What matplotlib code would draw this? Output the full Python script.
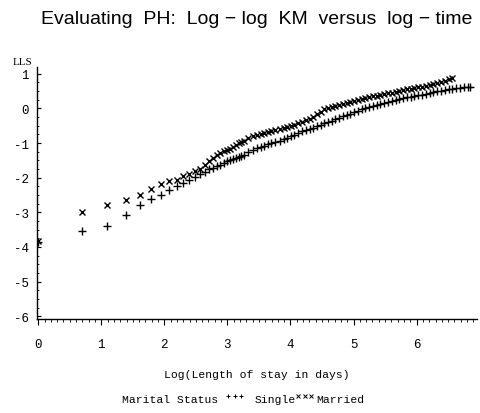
import numpy as np
import matplotlib
matplotlib.use("Agg")
import matplotlib.pyplot as plt
from matplotlib.lines import Line2D
from matplotlib.ticker import MultipleLocator

# Length of stay (days) at which the curves are evaluated; x = log(days)
married_days = [1, 2, 3, 4, 5, 6, 7, 8, 9, 10, 11, 12, 13, 14, 15, 16, 17, 18, 19, 20,
                21, 22, 23, 24, 25, 26, 28, 30, 32, 34, 36, 38, 40, 43, 46, 49, 52, 55, 58,
                62, 66, 70, 74, 78, 83, 88, 93, 99, 105, 111, 118, 125, 133, 141, 150, 159,
                169, 179, 190, 202, 214, 227, 241, 256, 272, 289, 307, 326, 346, 367, 390,
                414, 440, 467, 496, 527, 560, 595, 632, 671, 713]
married_lls = [-3.82, -2.98, -2.78, -2.64, -2.49, -2.33, -2.18, -2.10, -2.06, -1.96, -1.89,
               -1.82, -1.75, -1.62, -1.52, -1.42, -1.33, -1.28, -1.24, -1.21,
               -1.18, -1.12, -1.06, -1.00, -0.96, -0.93, -0.86, -0.80, -0.77, -0.73, -0.70,
               -0.68, -0.66, -0.62, -0.59, -0.56, -0.53, -0.50, -0.47, -0.42, -0.38, -0.34,
               -0.30, -0.25, -0.16, -0.09, -0.03, 0.01, 0.04, 0.07, 0.10, 0.13, 0.16, 0.19,
               0.22, 0.25, 0.27, 0.30, 0.32, 0.35, 0.37, 0.40, 0.42, 0.44, 0.46, 0.48, 0.50,
               0.53, 0.55, 0.57, 0.59, 0.61, 0.63, 0.65, 0.67, 0.70, 0.73, 0.76, 0.80, 0.84,
               0.88]

single_days = [1, 2, 3, 4, 5, 6, 7, 8, 9, 10, 11, 12, 13, 14, 15, 16, 17, 18, 19, 20,
               21, 22, 23, 24, 25, 26, 28, 30, 32, 34, 36, 38, 40, 43, 46, 49, 52, 55, 58,
               62, 66, 70, 74, 78, 83, 88, 93, 99, 105, 111, 118, 125, 133, 141, 150, 159,
               169, 179, 190, 202, 214, 227, 241, 256, 272, 289, 307, 326, 346, 367, 390,
               414, 440, 467, 496, 527, 560, 595, 632, 671, 713, 757, 804, 854, 907, 944]
single_lls = [-3.86, -3.54, -3.39, -3.08, -2.79, -2.62, -2.49, -2.35, -2.23, -2.15, -2.06,
              -1.99, -1.88, -1.83, -1.76, -1.71, -1.66, -1.62, -1.57, -1.53,
              -1.50, -1.47, -1.44, -1.41, -1.38, -1.34, -1.25, -1.19, -1.15, -1.11, -1.07,
              -1.04, -1.01, -0.97, -0.93, -0.89, -0.84, -0.80, -0.76, -0.71, -0.66, -0.62,
              -0.58, -0.55, -0.51, -0.47, -0.43, -0.39, -0.35, -0.31, -0.27, -0.23, -0.19,
              -0.15, -0.11, -0.07, -0.03, 0.00, 0.03, 0.07, 0.10, 0.13, 0.15, 0.18, 0.21,
              0.24, 0.27, 0.29, 0.32, 0.34, 0.36, 0.38, 0.40, 0.43, 0.45, 0.47, 0.49, 0.51,
              0.53, 0.55, 0.57, 0.58, 0.60, 0.61, 0.62, 0.63]

x_ticks = [0, 1, 2, 3, 4, 5, 6]
y_ticks = [-6, -5, -4, -3, -2, -1, 0, 1]

title = "Evaluating  PH:  Log \u2212 log  KM  versus  log \u2212 time"
x_label = "Log(Length of stay in days)"
y_label = "LLS"

mono = ["Liberation Mono", "DejaVu Sans Mono"]

fig = plt.figure(figsize=(4.8, 4.14), dpi=100)
ax = fig.add_axes([0.077, 0.227, 0.917, 0.609])

ax.plot(np.log(single_days), single_lls, linestyle="none", marker="+",
        markersize=5.5, markeredgewidth=1.0, color="black")
ax.plot(np.log(married_days), married_lls, linestyle="none", marker="x",
        markersize=4.8, markeredgewidth=1.0, color="black")

ax.set_xlim(-0.02, 6.96)
ax.set_ylim(-6.08, 1.2)
ax.set_xticks(x_ticks)
ax.set_yticks(y_ticks)
ax.xaxis.set_minor_locator(MultipleLocator(0.1))
ax.yaxis.set_minor_locator(MultipleLocator(0.25))
ax.set_xticklabels([str(v) for v in x_ticks], family=mono, fontsize=9)
ax.set_yticklabels([str(v) for v in y_ticks], family=mono, fontsize=9)
ax.tick_params(axis="x", which="major", direction="out", length=4, width=0.8, pad=10)
ax.tick_params(axis="x", which="minor", direction="out", length=2, width=0.6)
ax.tick_params(axis="y", which="major", direction="in", length=3, width=0.8, pad=6)
ax.tick_params(axis="y", which="minor", direction="in", length=1.5, width=0.6)
for s in ["top", "right"]:
    ax.spines[s].set_visible(False)
for s in ["left", "bottom"]:
    ax.spines[s].set_linewidth(1.0)

ax.set_xlabel(x_label, family=mono, fontsize=8.2, labelpad=13)

fig.text(0.535, 0.952, title, ha="center", va="center", fontsize=14,
         family=["Liberation Sans", "DejaVu Sans"])
fig.text(0.046, 0.85, y_label, ha="center", va="center", fontsize=8,
         family=["Liberation Serif", "DejaVu Serif"])

# Legend row at the bottom
ly = 1 - 400 / 414
fig.text(122 / 480, ly, "Marital Status", family=mono, fontsize=8.2, ha="left", va="center")
for i in range(3):
    fig.add_artist(Line2D([(228 + i * 6.5) / 480], [ly + 0.008], marker="+", markersize=3.5,
                          markeredgewidth=0.7, color="black", transform=fig.transFigure))
fig.text(255 / 480, ly, "Single", family=mono, fontsize=8.2, ha="left", va="center")
for i in range(3):
    fig.add_artist(Line2D([(298 + i * 6.5) / 480], [ly + 0.008], marker="x", markersize=3,
                          markeredgewidth=0.7, color="black", transform=fig.transFigure))
fig.text(316 / 480, ly, "Married", family=mono, fontsize=8.2, ha="left", va="center")

fig.savefig("out.png", dpi=100)
